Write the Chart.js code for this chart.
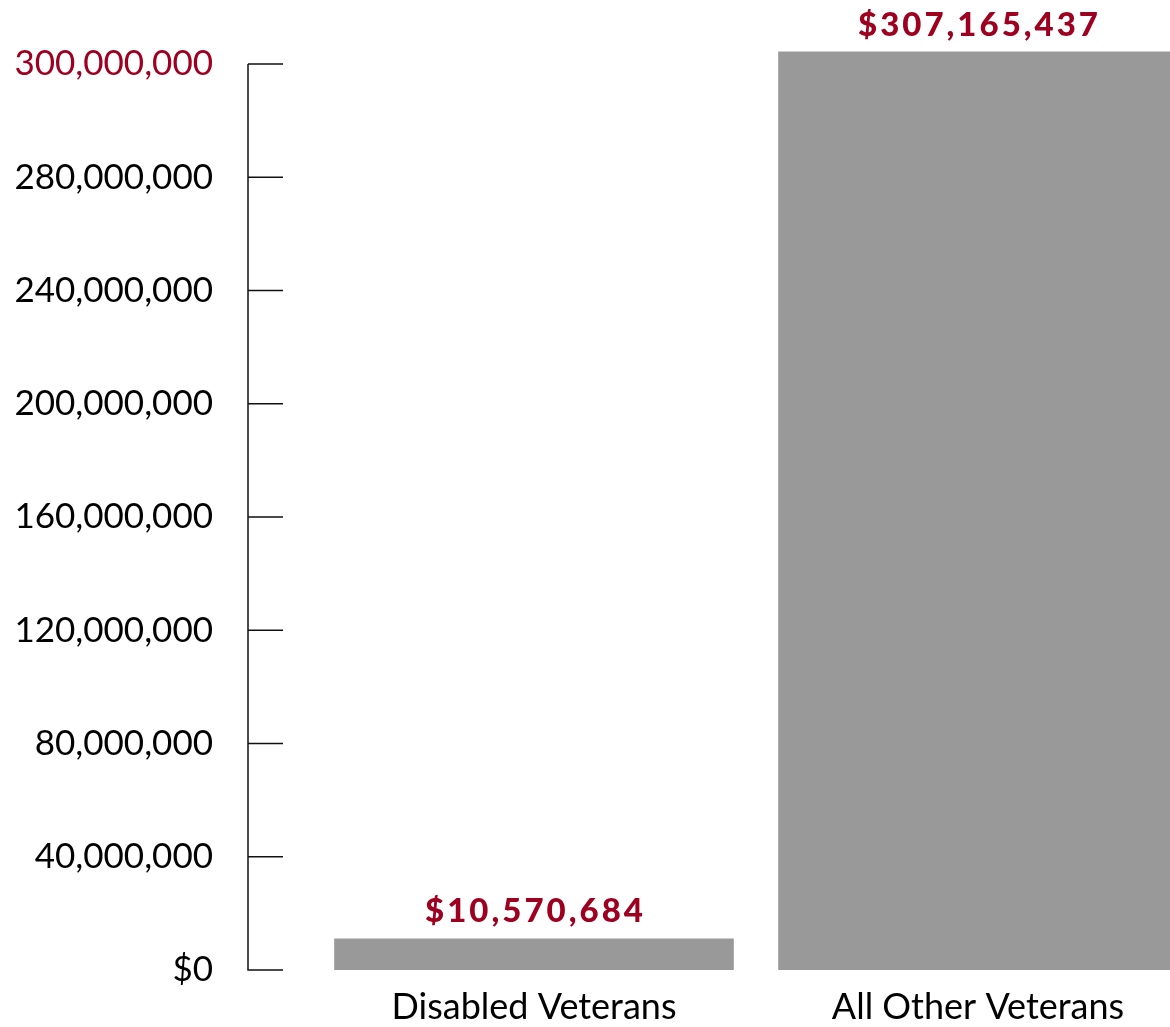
<!DOCTYPE html>
<html lang="en">
<head>
<meta charset="UTF-8">
<title>Veterans Spending</title>
<script src="https://cdn.jsdelivr.net/npm/chart.js"></script>
<style>
    html, body { margin: 0; padding: 0; background: #fff; overflow: hidden; }
    #wrap { width: 1170px; height: 1027px; overflow: hidden; }
</style>
</head>
<body>
<div id="wrap">
    <canvas id="spendChart" width="1200" height="1027"></canvas>
</div>

<script>
    // data
    const categories = ['Disabled Veterans', 'All Other Veterans'];
    const amounts = [10570684, 307165437];
    const yTickLabels = ['$0', '40,000,000', '80,000,000', '120,000,000', '160,000,000',
        '200,000,000', '240,000,000', '280,000,000', '300,000,000'];

    const axisTop = 303000000;
    const red = '#9e0020';
    const fontFamily = 'Lato, "Open Sans", sans-serif';

    // axis line sits left of the plot, tick marks point inward
    const axisGap = 64;
    const tickLen = 35;

    const axisPlugin = {
        id: 'innerAxis',
        afterDraw(chart) {
            const ctx = chart.ctx;
            const y = chart.scales.y;
            const x0 = chart.chartArea.left - axisGap;
            ctx.save();
            ctx.strokeStyle = '#111';
            ctx.lineWidth = 1.5;
            ctx.beginPath();
            ctx.moveTo(x0, y.getPixelForValue(0) + 0.75);
            ctx.lineTo(x0, y.getPixelForValue(axisTop));
            y.ticks.forEach(t => {
                const py = y.getPixelForValue(t.value);
                ctx.moveTo(x0, py);
                ctx.lineTo(x0 + tickLen, py);
            });
            ctx.stroke();
            ctx.restore();
        }
    };

    const valueLabels = {
        id: 'valueLabels',
        afterDatasetsDraw(chart) {
            const ctx = chart.ctx;
            const meta = chart.getDatasetMeta(0);
            ctx.save();
            ctx.font = '900 33px ' + fontFamily;
            ctx.letterSpacing = '3px';
            ctx.fillStyle = red;
            ctx.textAlign = 'center';
            ctx.textBaseline = 'alphabetic';
            meta.data.forEach((bar, i) => {
                ctx.fillText('$' + amounts[i].toLocaleString('en-US'), bar.x + 1.5, bar.y - 16);
            });
            ctx.restore();
        }
    };

    new Chart(document.getElementById('spendChart'), {
        type: 'bar',
        data: {
            labels: categories,
            datasets: [{
                data: amounts,
                backgroundColor: '#999999',
                borderWidth: 0,
                barPercentage: 1,
                categoryPercentage: 0.9,
                clip: false
            }]
        },
        options: {
            responsive: false,
            animation: false,
            devicePixelRatio: 1,
            layout: { padding: { top: 64 } },
            plugins: {
                legend: { display: false },
                tooltip: { enabled: false }
            },
            scales: {
                x: {
                    offset: true,
                    grid: { display: false, drawTicks: false },
                    border: { display: false },
                    ticks: {
                        color: '#000',
                        padding: 16,
                        font: { family: fontFamily, size: 36 }
                    },
                    afterFit: s => { s.height = 57; }
                },
                y: {
                    min: 0,
                    max: axisTop,
                    grid: { display: false, drawTicks: false },
                    border: { display: false },
                    afterBuildTicks: s => {
                        const n = yTickLabels.length - 1;
                        s.ticks = yTickLabels.map((_, i) => ({ value: axisTop * i / n }));
                    },
                    ticks: {
                        autoSkip: false,
                        padding: 99,
                        font: { family: fontFamily, size: 35 },
                        color: c => c.index === yTickLabels.length - 1 ? red : '#000',
                        callback: (v, i) => yTickLabels[i]
                    },
                    afterFit: s => {
                        s.width = 312;
                        s.paddingTop = 0;
                        s.paddingBottom = 0;
                    }
                }
            }
        },
        plugins: [axisPlugin, valueLabels]
    });
</script>
</body>
</html>
